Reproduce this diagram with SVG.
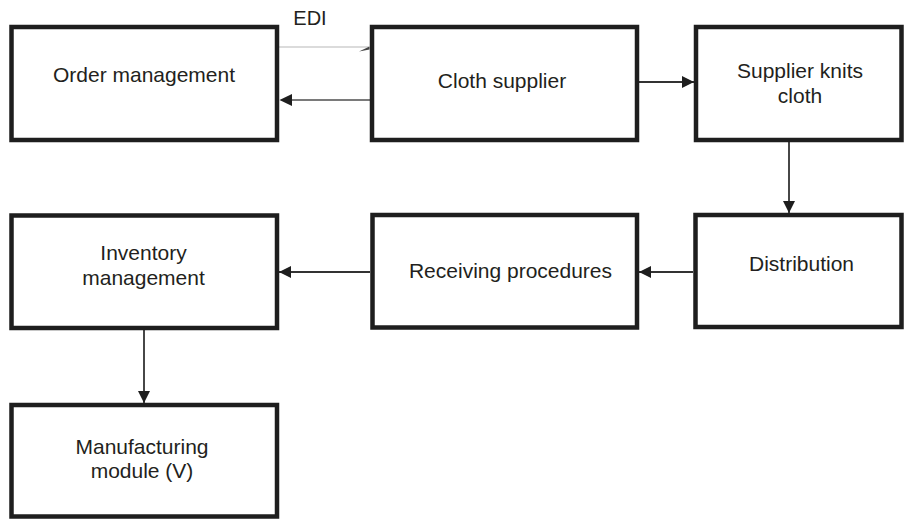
<svg xmlns="http://www.w3.org/2000/svg" width="904" height="519" viewBox="0 0 904 519">
  <style>
    .box { fill: #ffffff; stroke: #1e1e1e; stroke-width: 4.5; }
    .lbl { font-family: "Liberation Sans", Arial, Helvetica, sans-serif; font-size: 21px; fill: #231f20; text-anchor: middle; }
    .edge { stroke: #333333; stroke-width: 1.8; fill: none; }
    .head { fill: #1e1e1e; }
  </style>
  <defs>
    <marker id="arrow" viewBox="0 0 12 12" refX="12" refY="6" markerWidth="12" markerHeight="12" markerUnits="userSpaceOnUse" orient="auto">
      <path class="head" d="M0,0 L12,6 L0,12 Z"/>
    </marker>
  </defs>
  <rect width="904" height="519" fill="#ffffff"/>

  <!-- connectors -->
  <g id="connectors">
    <!-- EDI link: faint line with a small tick head -->
    <line x1="279" y1="47" x2="369" y2="47" stroke="#cfcfcf" stroke-width="1.5"/>
    <polygon points="359,51.5 369.5,46.5 369.5,49.5" fill="#444444"/>
    <text class="lbl" x="310" y="25" style="font-size:20px">EDI</text>
    <!-- return from cloth supplier -->
    <line x1="370" y1="100" x2="291" y2="100" stroke="#7a7a7a" stroke-width="1.8"/>
    <polygon class="head" points="279.5,100 292,94 292,106"/>
    <line class="edge" x1="639" y1="82" x2="694" y2="82" marker-end="url(#arrow)"/>
    <line class="edge" x1="789" y1="142" x2="789" y2="213" marker-end="url(#arrow)"/>
    <line class="edge" x1="693" y1="272" x2="639" y2="272" marker-end="url(#arrow)"/>
    <line class="edge" x1="370" y1="272" x2="279" y2="272" marker-end="url(#arrow)"/>
    <line class="edge" x1="144" y1="330" x2="144" y2="403" marker-end="url(#arrow)"/>
  </g>

  <g id="order-management">
    <rect class="box" x="11.5" y="27" width="265.5" height="113"/>
    <text class="lbl" x="144" y="82">Order management</text>
  </g>
  <g id="cloth-supplier">
    <rect class="box" x="372" y="27" width="265" height="113"/>
    <text class="lbl" x="502" y="88">Cloth supplier</text>
  </g>
  <g id="supplier-knits">
    <rect class="box" x="696" y="27" width="205.5" height="113"/>
    <text class="lbl" x="800" y="78">Supplier knits</text>
    <text class="lbl" x="800" y="103">cloth</text>
  </g>
  <g id="inventory-management">
    <rect class="box" x="11.5" y="215.5" width="265.5" height="112.5"/>
    <text class="lbl" x="143.5" y="260">Inventory</text>
    <text class="lbl" x="143.5" y="285">management</text>
  </g>
  <g id="receiving-procedures">
    <rect class="box" x="372.5" y="215" width="264.5" height="112.5"/>
    <text class="lbl" x="510.5" y="278">Receiving procedures</text>
  </g>
  <g id="distribution">
    <rect class="box" x="695.5" y="215" width="206" height="112"/>
    <text class="lbl" x="801.5" y="271">Distribution</text>
  </g>
  <g id="manufacturing-module">
    <rect class="box" x="11.5" y="405" width="265.5" height="111.5"/>
    <text class="lbl" x="142" y="454">Manufacturing</text>
    <text class="lbl" x="142" y="478">module (V)</text>
  </g>
</svg>
